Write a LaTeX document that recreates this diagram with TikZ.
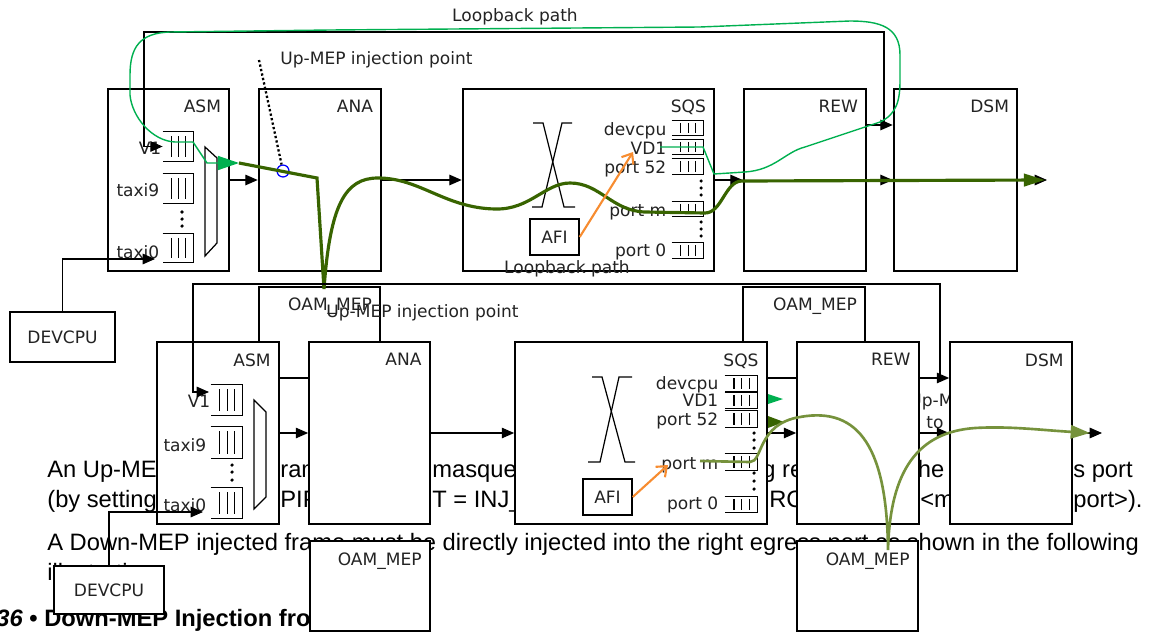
\documentclass[tikz,border=0pt]{standalone}
\usepackage{fontspec}
\setmainfont{Liberation Sans}
\newfontfamily\dejavu{DejaVu Sans}
\usepackage{tikz}
\usetikzlibrary{arrows.meta, positioning, calc, fit}
\definecolor{cLoop}{RGB}{0,176,80}
\definecolor{cUp}{RGB}{56,100,0}
\definecolor{cDown}{RGB}{118,146,60}
\definecolor{cAfi}{RGB}{247,140,48}
\definecolor{cTxt}{RGB}{35,35,35}
\newcommand{\lblfont}{\dejavu\fontsize{9.7}{11.5}\selectfont}
\tikzset{
	% block styles (upper and lower drawing)
	blkA/.style   ={rectangle, draw=black, line width=1.5pt, fill=white, inner sep=0pt},
	blkB/.style   ={rectangle, draw=black, line width=1pt, fill=white, inner sep=0pt},
	afibox/.style ={rectangle, draw=black, line width=0.8pt, fill=white, inner sep=0pt},
	fifo/.style   ={rectangle, inner sep=0pt},
	qline/.style  ={line width=0.7pt},
	% text styles
	lbl/.style    ={font=\lblfont, text=cTxt, inner sep=0pt},
	qlbl/.style   ={lbl, anchor=east, text height=1.33ex, text depth=0pt},
	body/.style   ={font=\fontsize{13.5}{16}\selectfont, inner sep=0pt, anchor=base west},
	% connector styles
	sig/.style    ={-{Triangle[length=7pt, width=6pt]}, line width=0.6pt},
	loopg/.style  ={cLoop, line width=0.8pt, -{Triangle[length=12pt, width=8pt]}},
	upg/.style    ={cUp, line width=1.8pt, -{Triangle[length=12pt, width=7pt]}},
	downg/.style  ={cDown, line width=1.5pt, -{Triangle[length=11pt, width=7.5pt]}},
	afiarr/.style ={cAfi, line width=1.2pt, -{Straight Barb[length=5pt, width=8pt]}},
	dotln/.style  ={line width=1.3pt, dash pattern=on 1.3pt off 1.3pt},
}
% open queue with three bars
\newcommand{\fifo}[5]{%
	\node[fifo, fit={(#2,#3) (#4,#5)}] (#1) {};
	\draw[qline] (#1.north west) -- (#1.north east) -- (#1.south east) -- (#1.south west);
	\foreach \qf in {0.28,0.52,0.76}
		\draw[qline] ({#2+\qf*(#4-#2)},{#3+0.14*(#5-#3)}) -- ({#2+\qf*(#4-#2)},{#5-0.14*(#5-#3)});
}

\begin{document}
\begin{tikzpicture}[x=0.02cm, y=-0.02cm]
\useasboundingbox (0,0) rectangle (1155,632);

% page text behind the lower drawing
\node[body] (t1a) at (47,477) {An Up-MEP injected f};
\node[body] (t1b) at (280,477) {rame must be};
\node[body] (t1c) at (432,477) {masqueraded as bein};
\node[body] (t1d) at (762,477) {g received on the ingre};
\node[body] (t1e) at (1073,477) {s port};
\node[body] (t2a) at (47,507) {(by setting IFH.};
\node[body] (t2b) at (280,507) {PIPELINE\_P};
\node[body] (t2c) at (432,507) {T = INJ\_MASQ and IFH.FWD.S};
\node[body] (t2d) at (769,507) {RC\_PORT =};
\node[body] (t2e) at (920,507) {<masquerade};
\node[body] (t2f) at (1073,507) {port>).};
\node[body] (t3) at (47,550) {A Down-MEP injected frame must be directly injected into the right egress port as shown in the following};
\node[body] (t4) at (47,580) {illustration.};
\node[body] (cap) at (-4,626) {\textbf{\textit{36}} \textbf{• Down-MEP Injection from}};

% upper drawing
\node[blkA, fit={(108,89) (229,271)}] (asmA) {};
\node[blkA, fit={(259,89) (381,271)}] (anaA) {};
\node[blkA, fit={(463,89) (714,271)}] (sqsA) {};
\node[blkA, fit={(744,89) (866,271)}] (rewA) {};
\node[blkA, fit={(894,89) (1017,271)}] (dsmA) {};
\node[blkA, fit={(259,287) (380,378)}] (oamA1) {};
\node[blkA, fit={(743,287) (865,378)}] (oamA2) {};
\node[blkA, fit={(10,312) (115,362)}] (devA) {};
\node[afibox, fit={(530,219) (579,255)}] (afiA) {};
\node[lbl, anchor=north east] (asmAt) at ([shift={(-9,12)}]asmA.north east) {ASM};
\node[lbl, anchor=north east] (anaAt) at ([shift={(-9,12)}]anaA.north east) {ANA};
\node[lbl, anchor=north east] (sqsAt) at ([shift={(-9,12)}]sqsA.north east) {SQS};
\node[lbl, anchor=north east] (rewAt) at ([shift={(-9,12)}]rewA.north east) {REW};
\node[lbl, anchor=north east] (dsmAt) at ([shift={(-9,12)}]dsmA.north east) {DSM};
\node[lbl, anchor=north east] (oamA1t) at ([shift={(-9,12)}]oamA1.north east) {OAM\_MEP};
\node[lbl, anchor=north east] (oamA2t) at ([shift={(-9,12)}]oamA2.north east) {OAM\_MEP};
\node[lbl] (devAt) at (devA) {DEVCPU};
\node[lbl] (afiAt) at (afiA) {AFI};

\fifo{qV1A}{163}{132}{193}{161}
\fifo{qT9A}{163}{174}{193}{203}
\fifo{qT0A}{163}{234}{193}{262}
\node[qlbl] (lV1A) at ([shift={(-1,1.5)}]qV1A.west) {V1};
\node[qlbl] (lT9A) at ([shift={(-3,1.5)}]qT9A.west) {taxi9};
\node[qlbl] (lT0A) at ([shift={(-3,4)}]qT0A.west) {taxi0};
\foreach \dy in {212,219,226} \fill (182,\dy) circle[radius=1pt];
\draw[qline] (205,147) -- (217,158) -- (217,243) -- (205,256) -- cycle;

\fifo{qCpuA}{672}{121}{703}{135}
\fifo{qVd1A}{672}{140}{703}{154}
\fifo{qP52A}{672}{159}{703}{174}
\fifo{qPmA}{672}{202}{703}{216}
\fifo{qP0A}{672}{243}{703}{258}
\node[qlbl] (lCpuA) at ([shift={(-5,1)}]qCpuA.west) {devcpu};
\node[qlbl] (lVd1A) at ([shift={(-5,1.5)}]qVd1A.west) {VD1};
\node[qlbl] (lP52A) at ([shift={(-5,1)}]qP52A.west) {port 52};
\node[qlbl] (lPmA) at ([shift={(-5,1)}]qPmA.west) {port m};
\node[qlbl] (lP0A) at ([shift={(-5,0)}]qP0A.west) {port 0};
\foreach \dy in {181,188,195,222,229,236} \fill (701,\dy) circle[radius=1pt];
\draw[qline] (533,123) -- (543,123) -- (564,207) -- (575,207);
\draw[qline] (572,123) -- (562,123) -- (542,207) -- (532,207);

\draw[sig] (asmA.east) -- (anaA.west);
\draw[sig] (anaA.east) -- (sqsA.west);
\draw[sig] (sqsA.east) -- (rewA.west);
\draw[sig] (rewA.east) -- (dsmA.west);
\coordinate (outA) at (1047,180);
\draw[sig] (dsmA.east) -- (outA);
\coordinate (lbA) at (884,125);
\draw[sig] (rewA.east |- lbA) -- (dsmA.west |- lbA);
\draw[sig] (lbA) |- (144,32) |- (qV1A.west);
\coordinate (inT0A) at (155,259);
\draw[sig] (devA.north) |- (inT0A);

\node[lbl, anchor=base] (lbtA) at (515,21) {Loopback path};
\node[lbl, anchor=base west] (injtA) at (280,64) {Up-MEP injection point};
\coordinate (injTopA) at (259,60);
\node[circle, draw=blue, line width=0.7pt, minimum size=6.8pt, inner sep=0pt] (injA) at (283,171) {};
\draw[dotln] (injTopA) -- (injA);

\draw[loopg] (660,147) -- (703,147) -- (714,174) -- (745,172) .. controls (775,170) and (785,152) .. (805,147) -- (880,122) .. controls (897,114) and (900,100) .. (900,80) -- (900,55) .. controls (900,27) and (880,21) .. (850,21) -- (700,27) -- (330,30) -- (170,32) .. controls (140,33) and (130,47) .. (130,75) -- (130,95) .. controls (132,117) and (152,141) .. (175,142) -- (193,142) -- (207,163) -- (239,163);
\draw[upg] (239,163) -- (317,178) -- (324,289) .. controls (330,205) and (345,178) .. (378,178) .. controls (420,178) and (445,208) .. (495,209) .. controls (530,210) and (545,183) .. (570,183) .. controls (600,183) and (612,211) .. (645,212) -- (705,213) .. controls (722,213) and (725,181) .. (742,181) -- (1045,180);
\coordinate (vd1inA) at (633,152);
\draw[afiarr] (afiA.east) -- (vd1inA);

% lower drawing
\node[lbl, anchor=base west] (upmB) at (909,406) {Up-MEP};
\node[lbl, anchor=base west] (toB) at (926,428) {to};
\node[blkB, fit={(157,342) (279,524)}] (asmB) {};
\node[blkB, fit={(309,342) (430,524)}] (anaB) {};
\node[blkB, fit={(515,342) (767,524)}] (sqsB) {};
\node[blkB, fit={(797,342) (919,524)}] (rewB) {};
\node[blkB, fit={(950,342) (1072,524)}] (dsmB) {};
\node[afibox, fit={(583,479) (632,515)}] (afiB) {};
\node[lbl, anchor=north east] (asmBt) at ([shift={(-9,12)}]asmB.north east) {ASM};
\node[lbl, anchor=north east] (anaBt) at ([shift={(-9,12)}]anaB.north east) {ANA};
\node[lbl, anchor=north east] (sqsBt) at ([shift={(-9,12)}]sqsB.north east) {SQS};
\node[lbl, anchor=north east] (rewBt) at ([shift={(-9,12)}]rewB.north east) {REW};
\node[lbl, anchor=north east] (dsmBt) at ([shift={(-9,12)}]dsmB.north east) {DSM};
\node[lbl] (afiBt) at (afiB) {AFI};

\fifo{qV1B}{211}{385}{242}{415}
\fifo{qT9B}{211}{427}{242}{458}
\fifo{qT0B}{211}{488}{242}{518}
\node[qlbl] (lV1B) at ([shift={(0,1)}]qV1B.west) {V1};
\node[qlbl] (lT9B) at ([shift={(-4,2.5)}]qT9B.west) {taxi9};
\node[qlbl] (lT0B) at ([shift={(-4,2)}]qT0B.west) {taxi0};
\foreach \dy in {465,472,480} \fill (232,\dy) circle[radius=1pt];
\draw[qline] (254,400) -- (266,412) -- (266,497) -- (254,509) -- cycle;

\fifo{qCpuB}{725}{376}{757}{391}
\fifo{qVd1B}{725}{393}{757}{408}
\fifo{qP52B}{725}{411}{757}{427}
\fifo{qPmB}{725}{454}{757}{470}
\fifo{qP0B}{725}{497}{757}{512}
\node[qlbl] (lCpuB) at ([shift={(-6,0)}]qCpuB.west) {devcpu};
\node[qlbl] (lVd1B) at ([shift={(-6,0)}]qVd1B.west) {VD1};
\node[qlbl] (lP52B) at ([shift={(-6,0)}]qP52B.west) {port 52};
\node[qlbl] (lPmB) at ([shift={(-6,1)}]qPmB.west) {port m};
\node[qlbl] (lP0B) at ([shift={(-6,-1)}]qP0B.west) {port 0};
\foreach \dy in {433,440,448,473,481,489} \fill (754,\dy) circle[radius=1pt];
\draw[qline] (592,377) -- (602,377) -- (625,462) -- (635,462);
\draw[qline] (632,377) -- (619,377) -- (600,462) -- (588,462);

\draw[sig] (asmB.east) -- (anaB.west);
\draw[sig] (anaB.east) -- (sqsB.west);
\draw[sig] (sqsB.east) -- (rewB.west);
\draw[sig] (rewB.east) -- (dsmB.west);
\coordinate (outB) at (1102,433);
\draw[sig] (dsmB.east) -- (outB);
\coordinate (lbB) at (940,378);
\draw[sig] (rewB.east |- lbB) -- (dsmB.west |- lbB);
\coordinate (inV1B) at (209,392);
\draw[sig] (lbB) |- (193,284) |- (inV1B);
\node[lbl, anchor=base] (lbtB) at (567,273) {Loopback path};
\node[lbl, anchor=base west] (injtB) at (326,317) {Up-MEP injection point};

\node[blkB, fit={(310,541) (430,631)}] (oamB1) {};
\node[blkB, fit={(797,541) (918,631)}] (oamB2) {};
\node[blkB, fit={(54,566) (164,614)}] (devB) {};
\node[lbl, anchor=north east] (oamB1t) at ([shift={(-9,12)}]oamB1.north east) {OAM\_MEP};
\node[lbl, anchor=north east] (oamB2t) at ([shift={(-9,12)}]oamB2.north east) {OAM\_MEP};
\node[lbl] (devBt) at (devB) {DEVCPU};
\coordinate (inT0B) at (203,512);
\draw[sig] (devB.north) |- (inT0B);

\fill[cLoop] (768,394) -- (783,399) -- (768,404) -- cycle;
\fill[cUp] (768,416) -- (784,422) -- (768,428) -- cycle;
\draw[downg] (700,461) -- (750,462) .. controls (763,462) and (757,424) .. (800,417) .. controls (860,406) and (887,450) .. (888,550) .. controls (890,470) and (918,432) .. (975,428) .. controls (1010,426) and (1040,430) .. (1090,433);
\coordinate (pmInB) at (668,465);
\draw[afiarr] (afiB.east) -- (pmInB);
\end{tikzpicture}
\end{document}
